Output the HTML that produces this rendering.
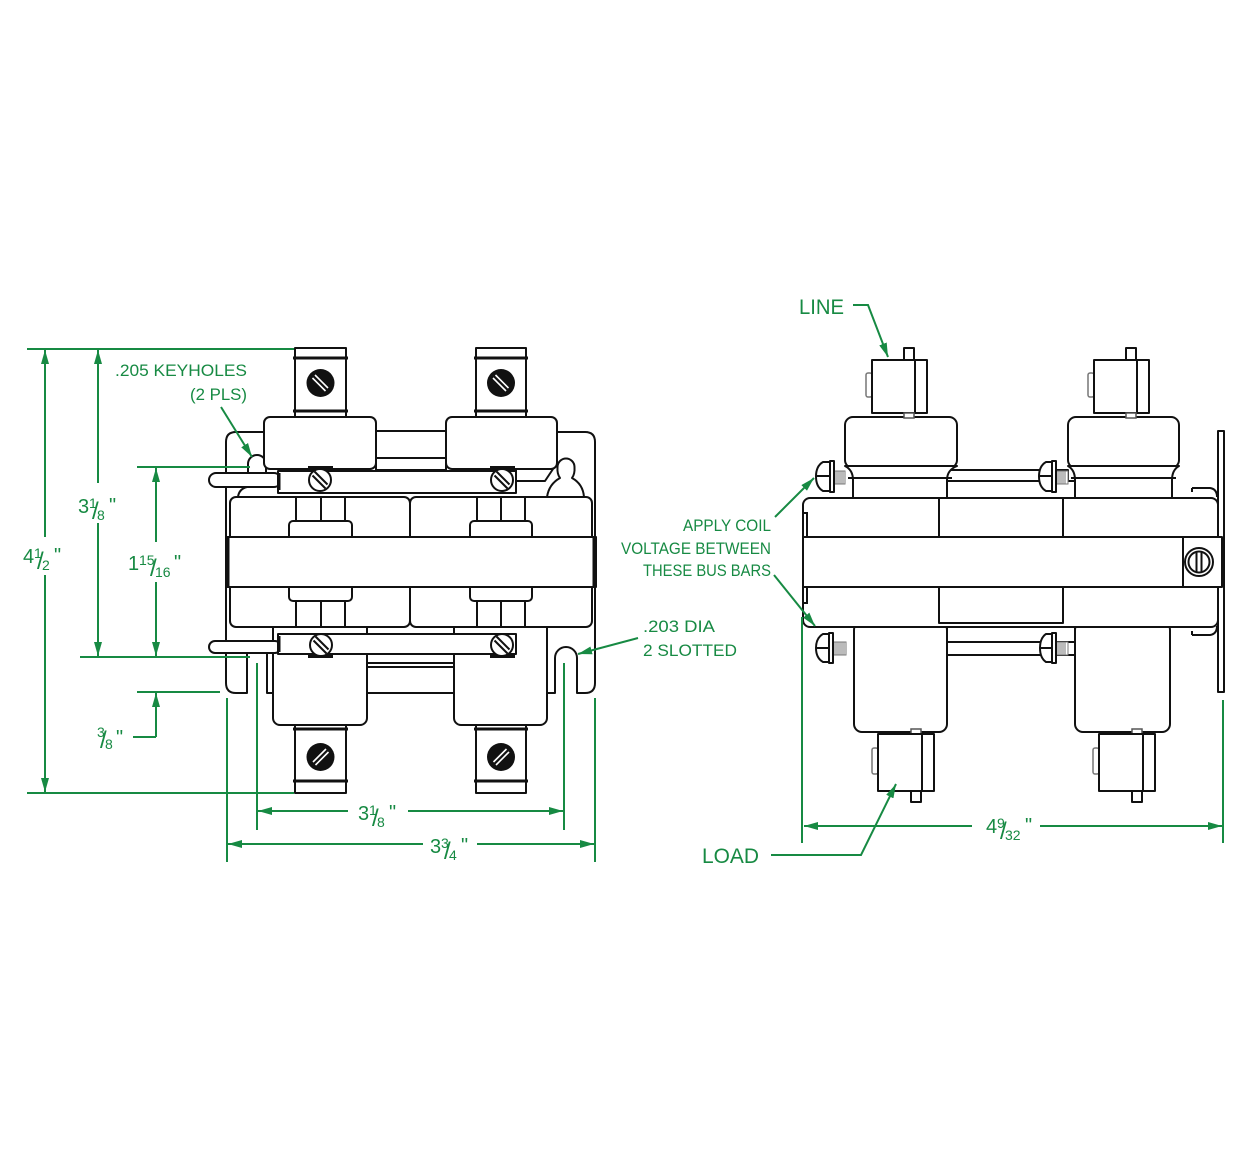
<!DOCTYPE html>
<html><head><meta charset="utf-8"><style>
html,body{margin:0;padding:0;background:#fff;}
svg{display:block;}
.k{fill:#fff;stroke:#111;stroke-width:2;stroke-linejoin:round;}
.n{fill:none;stroke:#111;stroke-width:2;}
.g{fill:none;stroke:#178a43;stroke-width:2;}
.t{font-family:"Liberation Sans",sans-serif;fill:#178a43;}
.th{stroke:#777;stroke-width:1;}
</style></head><body>
<svg width="1251" height="1152" viewBox="0 0 1251 1152" xmlns="http://www.w3.org/2000/svg">
<defs><marker id="a" markerUnits="userSpaceOnUse" markerWidth="15" markerHeight="9" refX="14" refY="4.5" orient="auto"><path d="M0,0.5 L14,4.5 L0,8.5 Z" fill="#178a43"/></marker></defs>
<rect width="1251" height="1152" fill="#fff"/>

<!-- ================= LEFT VIEW ================= -->
<path class="k" d="M236,432 L585,432 Q595,432 595,442 L595,683 Q595,693 585,693 L577,693 L577,658 A11,11 0 0 0 555,658 L555,693 L267,693 L267,653 L247,653 L247,693 L236,693 Q226,693 226,683 L226,442 Q226,432 236,432 Z"/>
<path class="k" d="M248,474 L248,464 A9,9 0 0 1 266,464 L266,474"/>
<path class="n" d="M238,497 Q239,489 247,487"/>
<path class="k" d="M547,497 Q549,484 560,478 Q557,474 557.5,467 A8.5,8.5 0 1 1 574.5,467 Q575,474 572,478 Q583,484 584,497 Z"/>
<path class="k" d="M516,469 L553,469 L545,481 L516,481 Z"/>

<rect class="k" x="376" y="431" width="70" height="27"/>
<rect class="k" x="376" y="458" width="70" height="12"/>
<rect class="k" x="264" y="417" width="112" height="52" rx="6"/>
<rect class="k" x="446" y="417" width="111" height="52" rx="6"/>

<rect class="k" x="367" y="640" width="87" height="53"/>
<line class="n" x1="367" y1="663" x2="454" y2="663"/>
<line class="n" x1="367" y1="667" x2="454" y2="667"/>
<rect class="k" x="273" y="620" width="94" height="105" rx="7"/>
<rect class="k" x="454" y="620" width="93" height="105" rx="7"/>

<rect class="k" x="230" y="497" width="180" height="50" rx="6"/>
<rect class="k" x="410" y="497" width="182" height="50" rx="6"/>
<rect class="k" x="230" y="577" width="180" height="50" rx="6"/>
<rect class="k" x="410" y="577" width="182" height="50" rx="6"/>
<rect class="k" x="289" y="521" width="63" height="20" rx="4"/>
<rect class="k" x="470" y="521" width="62" height="20" rx="4"/>
<rect class="k" x="289" y="583" width="63" height="18" rx="4"/>
<rect class="k" x="470" y="583" width="62" height="18" rx="4"/>
<rect class="k" x="226" y="537" width="370" height="50"/>
<line x1="227.5" y1="537" x2="227.5" y2="587" stroke="#111" stroke-width="4"/>
<line x1="594.5" y1="537" x2="594.5" y2="587" stroke="#111" stroke-width="4"/>
<rect class="k" x="296" y="497" width="49" height="24"/>
<line class="n" x1="321" y1="497" x2="321" y2="521"/>
<rect class="k" x="477" y="497" width="48" height="24"/>
<line class="n" x1="501" y1="497" x2="501" y2="521"/>
<rect class="k" x="296" y="601" width="49" height="26"/>
<line class="n" x1="321" y1="601" x2="321" y2="627"/>
<rect class="k" x="477" y="601" width="48" height="26"/>
<line class="n" x1="501" y1="601" x2="501" y2="627"/>

<rect class="k" x="209" y="473" width="72" height="14" rx="7"/>
<rect class="k" x="278" y="471" width="238" height="22"/>
<line x1="279" y1="473" x2="279" y2="490" stroke="#111" stroke-width="3"/>
<rect x="308" y="466" width="25" height="4" fill="#111"/>
<rect x="490" y="466" width="25" height="4" fill="#111"/>
<circle class="k" cx="320" cy="480" r="11"/>
<line class="n" x1="314.5" y1="471.5" x2="327.5" y2="484.5" stroke-width="1.5"/>
<line class="n" x1="312.5" y1="475.5" x2="325.5" y2="488.5" stroke-width="1.5"/>
<circle class="k" cx="502" cy="480" r="11"/>
<line class="n" x1="496.5" y1="471.5" x2="509.5" y2="484.5" stroke-width="1.5"/>
<line class="n" x1="494.5" y1="475.5" x2="507.5" y2="488.5" stroke-width="1.5"/>

<rect class="k" x="209" y="641" width="72" height="12" rx="6"/>
<rect class="k" x="278" y="634" width="238" height="20"/>
<line x1="279" y1="636" x2="279" y2="652" stroke="#111" stroke-width="3"/>
<rect x="308" y="654" width="25" height="4" fill="#111"/>
<rect x="490" y="654" width="25" height="4" fill="#111"/>
<circle class="k" cx="321" cy="645" r="11"/>
<line class="n" x1="315.5" y1="636.5" x2="328.5" y2="649.5" stroke-width="1.5"/>
<line class="n" x1="313.5" y1="640.5" x2="326.5" y2="653.5" stroke-width="1.5"/>
<circle class="k" cx="502" cy="645" r="11"/>
<line class="n" x1="496.5" y1="636.5" x2="509.5" y2="649.5" stroke-width="1.5"/>
<line class="n" x1="494.5" y1="640.5" x2="507.5" y2="653.5" stroke-width="1.5"/>

<rect class="k" x="295" y="348" width="51" height="69"/>
<line x1="293" y1="358" x2="348" y2="358" stroke="#111" stroke-width="3"/>
<line x1="293" y1="411" x2="348" y2="411" stroke="#111" stroke-width="3"/>
<circle cx="320.5" cy="383" r="14" fill="#111"/>
<line x1="315" y1="375" x2="328" y2="388" stroke="#fff" stroke-width="1.6"/>
<line x1="312.5" y1="378" x2="325.5" y2="391" stroke="#fff" stroke-width="1.6"/>
<rect class="k" x="476" y="348" width="50" height="69"/>
<line x1="474" y1="358" x2="528" y2="358" stroke="#111" stroke-width="3"/>
<line x1="474" y1="411" x2="528" y2="411" stroke="#111" stroke-width="3"/>
<circle cx="501" cy="383" r="14" fill="#111"/>
<line x1="495.5" y1="375" x2="508.5" y2="388" stroke="#fff" stroke-width="1.6"/>
<line x1="493" y1="378" x2="506" y2="391" stroke="#fff" stroke-width="1.6"/>

<rect class="k" x="295" y="725" width="51" height="68"/>
<line x1="293" y1="729" x2="348" y2="729" stroke="#111" stroke-width="3"/>
<line x1="293" y1="781" x2="348" y2="781" stroke="#111" stroke-width="3"/>
<circle cx="320.5" cy="757" r="14" fill="#111"/>
<line x1="313" y1="762" x2="326" y2="749" stroke="#fff" stroke-width="1.6"/>
<line x1="315.5" y1="765" x2="328.5" y2="752" stroke="#fff" stroke-width="1.6"/>
<rect class="k" x="476" y="725" width="50" height="68"/>
<line x1="474" y1="729" x2="528" y2="729" stroke="#111" stroke-width="3"/>
<line x1="474" y1="781" x2="528" y2="781" stroke="#111" stroke-width="3"/>
<circle cx="501" cy="757" r="14" fill="#111"/>
<line x1="493.5" y1="762" x2="506.5" y2="749" stroke="#fff" stroke-width="1.6"/>
<line x1="496" y1="765" x2="509" y2="752" stroke="#fff" stroke-width="1.6"/>

<!-- ================= RIGHT VIEW ================= -->
<rect class="k" x="1218" y="431" width="6" height="261"/>

<rect class="k" x="947" y="470" width="121" height="11"/>
<path class="k" d="M947,481 L1075,481 L1075,500 L947,500 Z"/>
<rect class="k" x="845" y="417" width="112" height="51" rx="8"/>
<path class="k" d="M845,466 Q853,470 853,480 L853,502 L947,502 L947,480 Q947,470 957,466 Z"/>
<line class="n" x1="848" y1="478" x2="952" y2="478"/>
<rect class="k" x="1068" y="417" width="111" height="51" rx="8"/>
<path class="k" d="M1068,466 Q1075,470 1075,480 L1075,502 L1172,502 L1172,480 Q1172,470 1179,466 Z"/>
<line class="n" x1="1071" y1="478" x2="1176" y2="478"/>

<rect x="833" y="471" width="12" height="13" fill="#fff" stroke="#777" stroke-width="1"/>
<path class="th" d="M835,471V484M837,471V484M839,471V484M841,471V484M843,471V484"/>
<rect class="k" x="830" y="461" width="4" height="31"/>
<path class="k" d="M830,462 L823,462 Q816,466 816,476.5 Q816,487 823,491 L830,491 Z"/>
<line class="n" x1="817" y1="476" x2="830" y2="476" stroke-width="1.5"/>
<rect x="1055" y="471" width="13" height="13" fill="#fff" stroke="#777" stroke-width="1"/>
<path class="th" d="M1057,471V484M1059,471V484M1061,471V484M1063,471V484M1065,471V484"/>
<rect class="k" x="1052" y="461" width="4" height="31"/>
<path class="k" d="M1052,462 L1046,462 Q1039,466 1039,476.5 Q1039,487 1046,491 L1052,491 Z"/>
<line class="n" x1="1040" y1="476" x2="1052" y2="476" stroke-width="1.5"/>

<path class="k" d="M947,624 L1075,624 L1075,642 L947,642 Z"/>
<rect class="k" x="947" y="642" width="128" height="13"/>
<rect class="k" x="854" y="622" width="93" height="110" rx="8"/>
<rect class="k" x="1075" y="622" width="95" height="110" rx="8"/>

<rect x="832" y="642" width="14" height="13" fill="#fff" stroke="#777" stroke-width="1"/>
<path class="th" d="M834,642V655M836,642V655M838,642V655M840,642V655M842,642V655M844,642V655"/>
<rect class="k" x="829" y="633" width="4" height="30"/>
<path class="k" d="M829,634 L823,634 Q816,638 816,648 Q816,658 823,662 L829,662 Z"/>
<line class="n" x1="817" y1="648" x2="829" y2="648" stroke-width="1.5"/>
<rect x="1055" y="642" width="13" height="13" fill="#fff" stroke="#777" stroke-width="1"/>
<path class="th" d="M1057,642V655M1059,642V655M1061,642V655M1063,642V655M1065,642V655"/>
<rect class="k" x="1052" y="633" width="4" height="30"/>
<path class="k" d="M1052,634 L1046,634 Q1040,638 1040,648 Q1040,658 1046,662 L1052,662 Z"/>
<line class="n" x1="1041" y1="648" x2="1052" y2="648" stroke-width="1.5"/>

<rect class="k" x="803" y="498" width="415" height="129" rx="7"/>
<path class="n" d="M803,513 L807,513 L807,537 M807,587 L807,603 L803,603" stroke-width="1.5"/>
<rect class="k" x="939" y="498" width="124" height="39"/>
<rect class="k" x="939" y="587" width="124" height="36"/>
<rect class="k" x="803" y="537" width="380" height="50" stroke-width="3"/>
<rect class="k" x="1183" y="537" width="39" height="50" stroke-width="2.5"/>
<circle class="k" cx="1199" cy="562" r="14"/>
<circle class="k" cx="1199" cy="562" r="10.5"/>
<line class="n" x1="1196.5" y1="552" x2="1196.5" y2="572" stroke-width="1.5"/>
<line class="n" x1="1201.5" y1="552" x2="1201.5" y2="572" stroke-width="1.5"/>

<path class="n" d="M1192,488 L1210,488 Q1217,489 1217,497"/>
<path class="n" d="M1192,492 L1192,488" />
<path class="n" d="M1192,635 L1210,635 Q1217,634 1217,626"/>
<path class="n" d="M1192,635 L1192,631" />

<rect class="k" x="904" y="348" width="10" height="12"/>
<rect x="866" y="373" width="6" height="24" fill="#fff" stroke="#777" stroke-width="1.5" rx="2"/>
<rect class="k" x="915" y="360" width="12" height="53"/>
<rect class="k" x="872" y="360" width="43" height="53" stroke-width="3"/>
<rect x="904" y="413" width="10" height="5" fill="#fff" stroke="#555" stroke-width="1.5"/>
<rect class="k" x="1126" y="348" width="10" height="12"/>
<rect x="1088" y="373" width="6" height="24" fill="#fff" stroke="#777" stroke-width="1.5" rx="2"/>
<rect class="k" x="1137" y="360" width="12" height="53"/>
<rect class="k" x="1094" y="360" width="43" height="53" stroke-width="3"/>
<rect x="1126" y="413" width="10" height="5" fill="#fff" stroke="#555" stroke-width="1.5"/>

<rect x="911" y="729" width="10" height="5" fill="#fff" stroke="#555" stroke-width="1.5"/>
<rect x="872" y="748" width="6" height="26" fill="#fff" stroke="#777" stroke-width="1.5" rx="2"/>
<rect class="k" x="922" y="734" width="12" height="57"/>
<rect class="k" x="878" y="734" width="44" height="57" stroke-width="3"/>
<rect class="k" x="911" y="791" width="10" height="11"/>
<rect x="1132" y="729" width="10" height="5" fill="#fff" stroke="#555" stroke-width="1.5"/>
<rect x="1093" y="748" width="6" height="26" fill="#fff" stroke="#777" stroke-width="1.5" rx="2"/>
<rect class="k" x="1143" y="734" width="12" height="57"/>
<rect class="k" x="1099" y="734" width="44" height="57" stroke-width="3"/>
<rect class="k" x="1132" y="791" width="10" height="11"/>

<!-- ================= GREEN DIMENSIONS ================= -->
<g>
<line class="g" x1="27" y1="349" x2="294" y2="349"/>
<line class="g" x1="27" y1="793" x2="294" y2="793"/>
<line class="g" x1="80" y1="657" x2="250" y2="657"/>
<line class="g" x1="137" y1="467" x2="250" y2="467"/>
<line class="g" x1="137" y1="692" x2="220" y2="692"/>
<line class="g" x1="227" y1="698" x2="227" y2="862"/>
<line class="g" x1="257" y1="663" x2="257" y2="830"/>
<line class="g" x1="564" y1="663" x2="564" y2="830"/>
<line class="g" x1="595" y1="698" x2="595" y2="862"/>

<line class="g" x1="45" y1="537" x2="45" y2="350" marker-end="url(#a)"/>
<line class="g" x1="45" y1="575" x2="45" y2="792" marker-end="url(#a)"/>
<line class="g" x1="98" y1="483" x2="98" y2="350" marker-end="url(#a)"/>
<line class="g" x1="98" y1="523" x2="98" y2="656" marker-end="url(#a)"/>
<line class="g" x1="156" y1="542" x2="156" y2="468" marker-end="url(#a)"/>
<line class="g" x1="156" y1="582" x2="156" y2="656" marker-end="url(#a)"/>
<line class="g" x1="156" y1="737" x2="156" y2="693" marker-end="url(#a)"/>
<line class="g" x1="156" y1="737" x2="133" y2="737"/>

<line class="g" x1="348" y1="811" x2="258" y2="811" marker-end="url(#a)"/>
<line class="g" x1="408" y1="811" x2="563" y2="811" marker-end="url(#a)"/>
<line class="g" x1="423" y1="844" x2="228" y2="844" marker-end="url(#a)"/>
<line class="g" x1="477" y1="844" x2="594" y2="844" marker-end="url(#a)"/>

<line class="g" x1="221" y1="407" x2="252" y2="457" marker-end="url(#a)"/>
<line class="g" x1="638" y1="638" x2="578" y2="654" marker-end="url(#a)"/>

<path class="g" d="M853,305 L868,305 L888,357" marker-end="url(#a)"/>
<line class="g" x1="775" y1="517" x2="814" y2="478" marker-end="url(#a)"/>
<line class="g" x1="774" y1="575" x2="815" y2="626" marker-end="url(#a)"/>
<line class="g" x1="802" y1="617" x2="802" y2="843"/>
<line class="g" x1="1223" y1="700" x2="1223" y2="843"/>
<line class="g" x1="972" y1="826" x2="804" y2="826" marker-end="url(#a)"/>
<line class="g" x1="1040" y1="826" x2="1222" y2="826" marker-end="url(#a)"/>
<path class="g" d="M771,855 L861,855 L896,784" marker-end="url(#a)"/>
</g>

<!-- labels -->
<text class="t" x="115" y="376" font-size="17" textLength="132" lengthAdjust="spacingAndGlyphs">.205 KEYHOLES</text>
<text class="t" x="190" y="400" font-size="17" textLength="57" lengthAdjust="spacingAndGlyphs">(2 PLS)</text>
<text class="t" x="643" y="632" font-size="17" textLength="72" lengthAdjust="spacingAndGlyphs">.203 DIA</text>
<text class="t" x="643" y="656" font-size="17" textLength="94" lengthAdjust="spacingAndGlyphs">2 SLOTTED</text>
<text class="t" x="683" y="531" font-size="17" textLength="88" lengthAdjust="spacingAndGlyphs">APPLY COIL</text>
<text class="t" x="621" y="554" font-size="17" textLength="150" lengthAdjust="spacingAndGlyphs">VOLTAGE BETWEEN</text>
<text class="t" x="643" y="576" font-size="17" textLength="128" lengthAdjust="spacingAndGlyphs">THESE BUS BARS</text>
<text class="t" x="799" y="314" font-size="21" textLength="45" lengthAdjust="spacingAndGlyphs">LINE</text>
<text class="t" x="702" y="863" font-size="21" textLength="57" lengthAdjust="spacingAndGlyphs">LOAD</text>

<!-- dimension values -->
<text class="t" font-size="20"><tspan x="23" y="563">4</tspan><tspan x="34" y="558" font-size="14">1</tspan><tspan x="37" y="569" font-size="24">/</tspan><tspan x="42" y="570" font-size="14">2</tspan><tspan x="54" y="562">"</tspan></text>
<text class="t" font-size="20"><tspan x="78" y="513">3</tspan><tspan x="89" y="508" font-size="14">1</tspan><tspan x="92" y="519" font-size="24">/</tspan><tspan x="97" y="520" font-size="14">8</tspan><tspan x="109" y="512">"</tspan></text>
<text class="t" font-size="20"><tspan x="128" y="570">1</tspan><tspan x="139" y="565" font-size="14">15</tspan><tspan x="150" y="576" font-size="24">/</tspan><tspan x="155" y="577" font-size="14">16</tspan><tspan x="174" y="569">"</tspan></text>
<text class="t" font-size="20"><tspan x="97" y="737" font-size="14">3</tspan><tspan x="100" y="748" font-size="24">/</tspan><tspan x="105" y="749" font-size="14">8</tspan><tspan x="116" y="744">"</tspan></text>
<text class="t" font-size="20"><tspan x="358" y="820">3</tspan><tspan x="369" y="815" font-size="14">1</tspan><tspan x="372" y="826" font-size="24">/</tspan><tspan x="377" y="827" font-size="14">8</tspan><tspan x="389" y="819">"</tspan></text>
<text class="t" font-size="20"><tspan x="430" y="853">3</tspan><tspan x="441" y="848" font-size="14">3</tspan><tspan x="444" y="859" font-size="24">/</tspan><tspan x="449" y="860" font-size="14">4</tspan><tspan x="461" y="852">"</tspan></text>
<text class="t" font-size="20"><tspan x="986" y="833">4</tspan><tspan x="997" y="828" font-size="14">9</tspan><tspan x="1000" y="839" font-size="24">/</tspan><tspan x="1005" y="840" font-size="14">32</tspan><tspan x="1025" y="832">"</tspan></text>
</svg>
</body></html>
